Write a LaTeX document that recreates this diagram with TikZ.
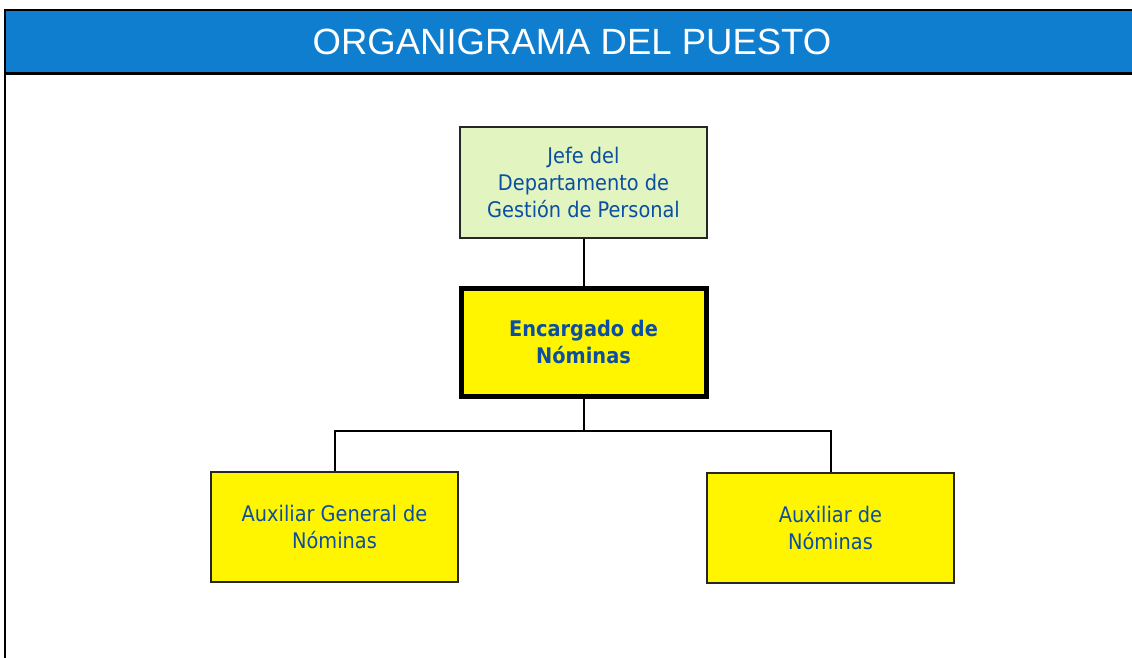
\documentclass[tikz,border=0pt]{standalone}
\usepackage{fontspec}
\setmainfont{Liberation Sans}
\newfontfamily\boxfont{DejaVu Sans Condensed}
\usepackage{tikz}
\definecolor{headblue}{RGB}{16, 126, 206}
\definecolor{textblue}{RGB}{11, 78, 162}
\definecolor{paleGreen}{RGB}{226, 245, 192}
\definecolor{boxyellow}{RGB}{255, 245, 0}

\begin{document}
\begin{tikzpicture}[x=1pt, y=-1pt,
    puesto/.style={draw=black!85, line width=2pt, fill=boxyellow, minimum width=247pt,
      minimum height=110pt, align=center, text=textblue,
      font=\boxfont\fontsize{21.5}{27}\selectfont},
    enlace/.style={line width=2pt}]
  \useasboundingbox[fill=white] (0,0) rectangle (1132,658);
  % cabecera
  \fill[headblue] (5,10) rectangle (1140,74);
  \draw[line width=2pt] (1140,10) -- (5,10) -- (5,658);
  \draw[line width=3pt] (5,74) -- (1140,74);
  \node[text=white, font=\fontsize{36.5}{40}\selectfont] (titulo) at (572,42) {ORGANIGRAMA DEL PUESTO};
  % cajas
  \node[puesto, fill=paleGreen] (jefe) at (583.5,182.5) {Jefe del\\Departamento de\\Gestión de Personal};
  \node[puesto, draw=black, line width=5pt, minimum width=245pt, minimum height=108pt,
    font=\boxfont\bfseries\fontsize{21.5}{27}\selectfont] (encargado) at (583.5,342) {Encargado de\\Nóminas};
  \node[puesto] (auxgeneral) at (334.5,527) {Auxiliar General de\\Nóminas};
  \node[puesto] (auxiliar) at (830.5,527.5) {Auxiliar de\\Nóminas};
  % enlaces
  \coordinate (reparto) at (583.5,431);
  \draw[enlace] (jefe) -- (encargado);
  \draw[enlace] (encargado) -- (reparto);
  \draw[enlace] (reparto) -| (auxgeneral);
  \draw[enlace] (reparto) -| (auxiliar);
\end{tikzpicture}
\end{document}
